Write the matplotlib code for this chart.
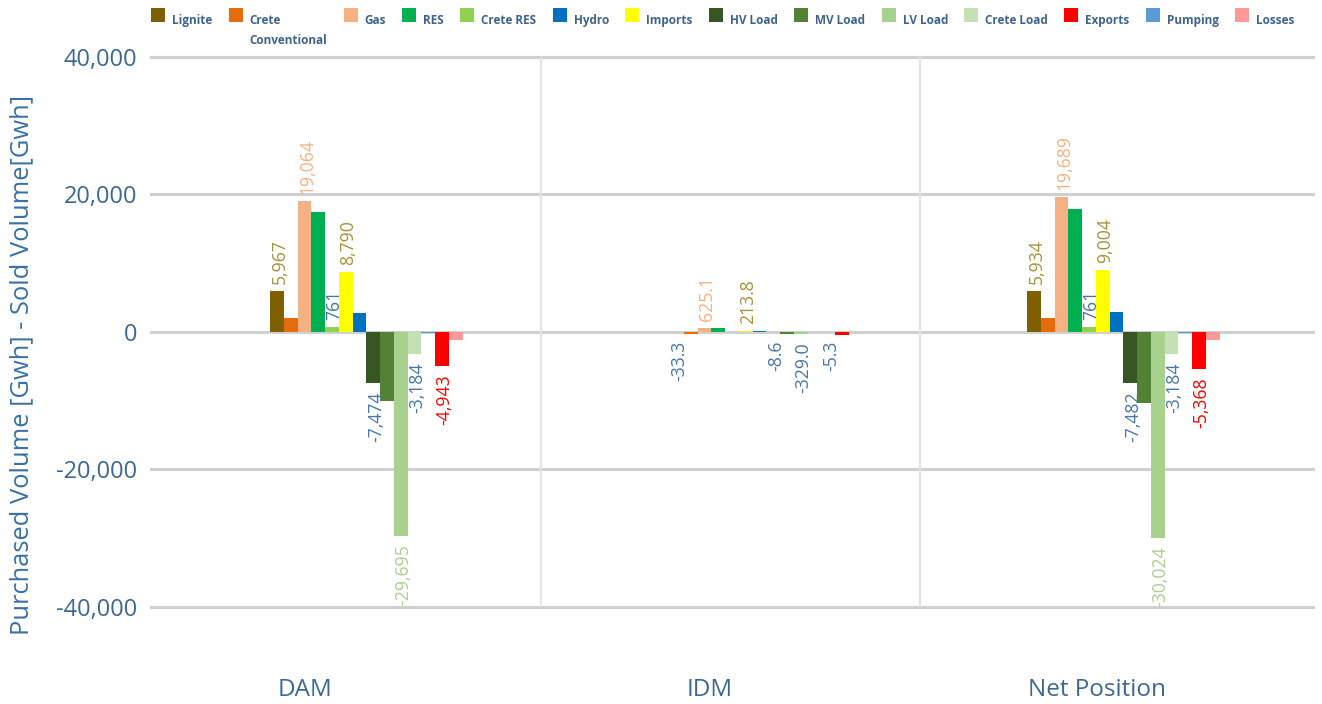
import matplotlib
matplotlib.use('Agg')
import matplotlib.pyplot as plt
from matplotlib.patches import Rectangle

plt.rcParams['font.family'] = ['Open Sans', 'DejaVu Sans']

W, H = 1322, 704

periods = ['DAM', 'IDM', 'Net Position']
series = ['Lignite', 'Crete Conventional', 'Gas', 'RES', 'Crete RES', 'Imports', 'Hydro',
          'HV Load', 'MV Load', 'LV Load', 'Crete Load', 'Pumping', 'Exports', 'Losses']
legend_order = ['Lignite', 'Crete Conventional', 'Gas', 'RES', 'Crete RES', 'Hydro', 'Imports',
                'HV Load', 'MV Load', 'LV Load', 'Crete Load', 'Exports', 'Pumping', 'Losses']

dam = [5967, 2030, 19064, 17450, 761, 8790, 2820, -7474, -10070, -29695, -3184, -200, -4943, -1210]
idm = [-33.3, -250, 625.1, 560, 5, 213.8, 110, -8.6, -290, -329.0, -5, -5.3, -425, -5]
net = [5934, 2040, 19689, 17950, 761, 9004, 2880, -7482, -10360, -30024, -3184, -205, -5368, -1170]
values = [dam, idm, net]

colors = {
    'Lignite': '#7f6000', 'Crete Conventional': '#e46c0a', 'Gas': '#f4b183', 'RES': '#00b050',
    'Crete RES': '#92d050', 'Imports': '#ffff00', 'Hydro': '#0070c0', 'HV Load': '#375623',
    'MV Load': '#538135', 'LV Load': '#a9d18e', 'Crete Load': '#c5e0b4', 'Pumping': '#5b9bd5',
    'Exports': '#ff0000', 'Losses': '#ff9999',
}

# which bars carry a value label, and its colour
gold = '#a8913a'
blue = '#4676a8'
dam_labels = {'Lignite': gold, 'Gas': '#f4b183', 'Crete RES': blue, 'Imports': gold,
              'HV Load': blue, 'LV Load': '#a9d18e', 'Crete Load': blue, 'Exports': '#ff0000'}
idm_labels = {'Lignite': blue, 'Gas': '#f4b183', 'Imports': gold, 'HV Load': blue,
              'LV Load': blue, 'Pumping': blue}
net_labels = dict(dam_labels)
labelled = [dam_labels, idm_labels, net_labels]
formats = ['{:,.0f}', '{:,.1f}', '{:,.0f}']

# layout (pixel units on the x axis)
group_left = [270, 670, 1027]
bar_w = 13.75
period_label_x = [305, 710, 1097]
separators = [541, 920]
text_col = '#3b6894'

fig = plt.figure(figsize=(W / 100, H / 100), dpi=100)
ax = fig.add_axes([150 / W, 1 - 620.75 / H, 1165 / W, 570.65 / H])
ax.set_xlim(150, 1315)
ax.set_ylim(-42000, 41000)

for p, vals in enumerate(values):
    for i, (name, v) in enumerate(zip(series, vals)):
        x = group_left[p] + (i + 0.5) * bar_w
        ax.bar(x, v, width=bar_w, color=colors[name], linewidth=0, zorder=3)
        if name in labelled[p]:
            pos = v >= 0
            ax.annotate(formats[p].format(v), (x, v), xytext=(2, 5 if pos else -6),
                        textcoords='offset points', rotation=90, ha='center',
                        va='bottom' if pos else 'top', fontsize=12.7,
                        color=labelled[p][name], zorder=4)

ax.set_yticks([-40000, -20000, 0, 20000, 40000])
ax.set_yticklabels(['-40,000', '-20,000', '0', '20,000', '40,000'])
ax.yaxis.grid(True, color='#d0d0d0', linewidth=2.2)
ax.set_axisbelow(True)
ax.vlines(separators, -40000, 40000, color='#e4e4e4', linewidth=1.5, zorder=1)
for s in ax.spines.values():
    s.set_visible(False)
ax.tick_params(axis='y', length=0, pad=9, labelsize=17, labelcolor=text_col)
ax.set_xticks(period_label_x)
ax.set_xticklabels(periods)
ax.tick_params(axis='x', length=0, pad=41, labelsize=17.5, labelcolor=text_col)

fig.text(22 / W, 1 - 365 / H, 'Purchased Volume [Gwh] - Sold Volume[Gwh]', rotation=90,
         ha='center', va='center', fontsize=18.4, color='#3a70a6')

# legend row across the top
renderer = fig.canvas.get_renderer()
x = 151
for name in legend_order:
    fig.add_artist(Rectangle((x / W, 1 - 22 / H), 14 / W, 14 / H, transform=fig.transFigure,
                             facecolor=colors[name], linewidth=0))
    label = 'Crete\nConventional' if name == 'Crete Conventional' else name
    t = fig.text((x + 21) / W, 1 - 14 / H, label, ha='left', va='top', fontsize=8.5,
                 fontweight='bold', color='#3f6391', linespacing=1.7)
    x = x + 21 + t.get_window_extent(renderer).width + 16.3

fig.savefig('out.png', dpi=100)
